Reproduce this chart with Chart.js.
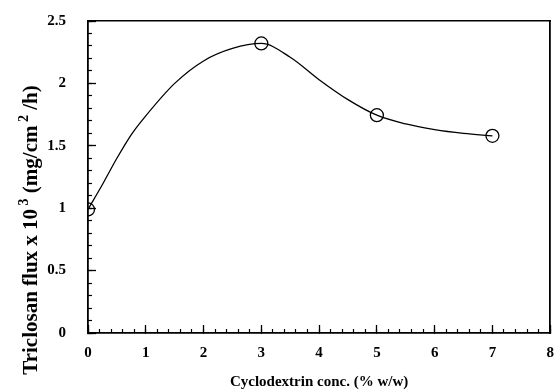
<!DOCTYPE html>
<html>
<head>
<meta charset="utf-8">
<script src="https://cdn.jsdelivr.net/npm/chart.js@4"></script>
<style>
  body { margin: 0; background: #fff; }
  canvas { display: block; }
</style>
</head>
<body>
<canvas id="chart" width="558" height="391"></canvas>
<script>
// measured points
const concentration = [0, 3, 5, 7];
const flux = [0.99, 2.32, 1.745, 1.58];

// smooth curve
const curveConc = [0, 0.25, 0.5, 0.75, 1, 1.5, 2, 2.5, 3, 3.5, 4, 4.5, 5, 5.5, 6, 6.5, 7];
const curveFlux = [0.99, 1.19, 1.40, 1.59, 1.74, 2.00, 2.18, 2.28, 2.32, 2.21, 2.03, 1.87, 1.745, 1.675, 1.63, 1.60, 1.58];

// axes
const xTickLabels = ['0', '1', '2', '3', '4', '5', '6', '7', '8'];
const yTickLabels = ['0', '0.5', '1', '1.5', '2', '2.5'];
const xTitle = 'Cyclodextrin conc. (% w/w)';
const yTitleParts = [['Triclosan flux x 10', false], [' 3', true], [' (mg/cm', false], [' 2', true], [' /h)', false]];

const serif = "'Liberation Serif', 'Times New Roman', serif";
const tickFont = { family: serif, size: 15, weight: 'bold' };

const points = concentration.map((c, i) => ({ x: c, y: flux[i] }));
const curve = curveConc.map((c, i) => ({ x: c, y: curveFlux[i] }));

// fixed axis sizes, no extra padding from the tick labels
function fixWidth(w) {
  return scale => { scale.width = w; scale.paddingTop = 0; scale.paddingBottom = 0; };
}
function fixHeight(h) {
  return scale => { scale.height = h; scale.paddingLeft = 0; scale.paddingRight = 0; };
}

const yTitlePlugin = {
  id: 'yTitle',
  afterDraw(chart) {
    const ctx = chart.ctx;
    ctx.save();
    ctx.fillStyle = '#000';
    ctx.textBaseline = 'alphabetic';
    const big = 'bold 21px ' + serif;
    const small = 'bold 14px ' + serif;
    let total = 0;
    const widths = yTitleParts.map(([t, sup]) => {
      ctx.font = sup ? small : big;
      const w = ctx.measureText(t).width;
      total += w;
      return w;
    });
    ctx.translate(37, 230);
    ctx.rotate(-Math.PI / 2);
    let x = -total / 2;
    yTitleParts.forEach(([t, sup], i) => {
      ctx.font = sup ? small : big;
      ctx.fillText(t, x, sup ? -9 : 0);
      x += widths[i];
    });
    ctx.restore();
  }
};

new Chart(document.getElementById('chart'), {
  type: 'scatter',
  data: {
    datasets: [
      {
        data: points,
        showLine: false,
        pointRadius: 6.5,
        pointHoverRadius: 6.5,
        pointBorderWidth: 1.3,
        pointBackgroundColor: 'rgba(0,0,0,0)',
        pointBorderColor: '#000'
      },
      {
        data: curve,
        showLine: true,
        pointRadius: 0,
        borderColor: '#000',
        borderWidth: 1.3,
        cubicInterpolationMode: 'monotone'
      }
    ]
  },
  options: {
    responsive: false,
    animation: false,
    layout: { padding: { left: 0, right: 5, top: 21, bottom: 0 } },
    plugins: { legend: { display: false }, tooltip: { enabled: false } },
    scales: {
      x: {
        type: 'linear', position: 'bottom', weight: 1,
        min: 0, max: 8,
        ticks: {
          stepSize: 1, padding: 19, color: '#000', font: tickFont,
          callback: (v, i) => xTickLabels[i]
        },
        grid: { drawOnChartArea: false, tickLength: -8, tickColor: '#000', tickWidth: 1.3 },
        border: { color: '#000', width: 1.8 },
        title: { display: true, text: xTitle, color: '#000', font: tickFont, padding: { top: 0, bottom: 0 } },
        afterFit: fixHeight(58)
      },
      xMinor: {
        type: 'linear', position: 'bottom', weight: 0,
        min: 0, max: 8,
        ticks: { stepSize: 0.2, display: false },
        grid: { drawOnChartArea: false, tickLength: -4, tickColor: '#000', tickWidth: 1.2 },
        border: { display: false },
        afterFit: fixHeight(0)
      },
      xTop: {
        type: 'linear', position: 'top',
        ticks: { display: false },
        grid: { display: false },
        border: { color: '#000', width: 1.5 },
        afterFit: fixHeight(0)
      },
      y: {
        type: 'linear', position: 'left', weight: 1,
        min: 0, max: 2.5,
        ticks: {
          stepSize: 0.5, padding: 30, color: '#000', font: tickFont,
          callback: (v, i) => yTickLabels[i]
        },
        grid: { drawOnChartArea: false, tickLength: -8, tickColor: '#000', tickWidth: 1.3 },
        border: { color: '#000', width: 1.8 },
        afterFit: fixWidth(88)
      },
      yMinor: {
        type: 'linear', position: 'left', weight: 0,
        min: 0, max: 2.5,
        ticks: { stepSize: 0.1, display: false },
        grid: { drawOnChartArea: false, tickLength: -4, tickColor: '#000', tickWidth: 1.2 },
        border: { display: false },
        afterFit: fixWidth(0)
      },
      yRight: {
        type: 'linear', position: 'right',
        ticks: { display: false },
        grid: { display: false },
        border: { color: '#000', width: 1.8 },
        afterFit: fixWidth(0)
      }
    }
  },
  plugins: [yTitlePlugin]
});
</script>
</body>
</html>
